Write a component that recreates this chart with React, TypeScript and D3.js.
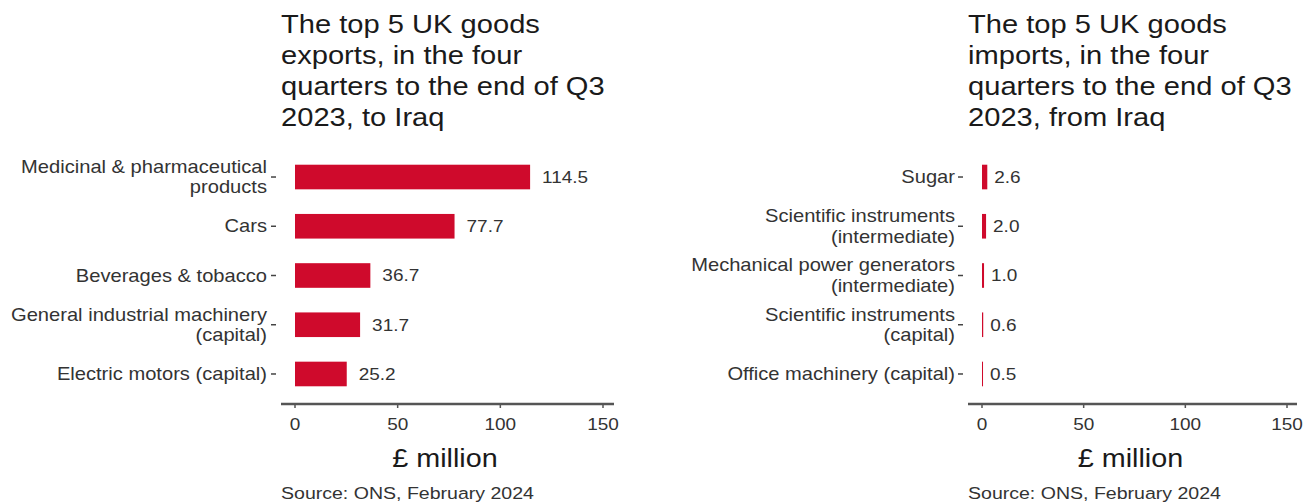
import React from "react";
import * as d3 from "d3";

const exportCategories = [
  ["Medicinal & pharmaceutical", "products"],
  ["Cars"],
  ["Beverages & tobacco"],
  ["General industrial machinery", "(capital)"],
  ["Electric motors (capital)"],
];
const exportValues = [114.5, 77.7, 36.7, 31.7, 25.2];

const importCategories = [
  ["Sugar"],
  ["Scientific instruments", "(intermediate)"],
  ["Mechanical power generators", "(intermediate)"],
  ["Scientific instruments", "(capital)"],
  ["Office machinery (capital)"],
];
const importValues = [2.6, 2.0, 1.0, 0.6, 0.5];

const xTicks = [0, 50, 100, 150];

const exportTitle = ["The top 5 UK goods", "exports, in the four", "quarters to the end of Q3", "2023, to Iraq"];
const importTitle = ["The top 5 UK goods", "imports, in the four", "quarters to the end of Q3", "2023, from Iraq"];

const BAR = "#CF0A2C";
const FONT = "'Liberation Sans', Arial, sans-serif";
const SX = 1.15;

type TProps = {
  x: number;
  y: number;
  size: number;
  anchor?: "start" | "middle" | "end";
  fill?: string;
  sx?: number;
  dy?: string;
  children: React.ReactNode;
};

function T({ x, y, size, anchor = "start", fill = "#333", sx = SX, dy, children }: TProps) {
  return (
    <g transform={`translate(${x},${y}) scale(${sx},1)`}>
      <text x={0} y={0} dy={dy} textAnchor={anchor} fontSize={size} fill={fill} fontFamily={FONT}>
        {children}
      </text>
    </g>
  );
}

type PanelProps = {
  cats: string[][];
  vals: number[];
  title: string[];
  x0: number;
  x150: number;
  axisStart: number;
  axisEnd: number;
  dashStart: number;
  dashEnd: number;
  labelRight: number;
  gap: number;
};

function Panel(p: PanelProps) {
  const x = d3.scaleLinear().domain([0, 150]).range([p.x0, p.x150]);
  const keys = p.cats.map((c) => c.join(" "));
  const y = d3
    .scaleBand<string>()
    .domain(keys)
    .range([152.4, 398.6])
    .paddingInner(0.5)
    .paddingOuter(0.25);
  const bw = y.bandwidth();
  const axisY = 404;
  return (
    <g>
      {p.title.map((t, i) => (
        <T key={i} x={p.axisStart} y={33 + i * 31} size={26} sx={1.12} fill="#1a1a1a">
          {t}
        </T>
      ))}
      {p.cats.map((c, i) => {
        const cy = (y(keys[i]) as number) + bw / 2;
        const lh = 20.5;
        const start = cy - ((c.length - 1) * lh) / 2;
        return (
          <g key={keys[i]}>
            {c.map((line, j) => (
              <T key={j} x={p.labelRight} y={start + j * lh} dy="0.35em" anchor="end" size={17.5}>
                {line}
              </T>
            ))}
            <line x1={p.dashStart} x2={p.dashEnd} y1={cy} y2={cy} stroke="#444" strokeWidth={1.5} />
            <rect x={x(0)} y={y(keys[i])} width={x(p.vals[i]) - x(0)} height={bw} fill={BAR} />
            <T x={x(p.vals[i]) + p.gap} y={cy} dy="0.35em" size={16.5}>
              {p.vals[i].toFixed(1)}
            </T>
          </g>
        );
      })}
      <line x1={p.axisStart} x2={p.axisEnd} y1={axisY} y2={axisY} stroke="#555" strokeWidth={2.5} />
      {xTicks.map((t) => (
        <g key={t}>
          <line x1={x(t)} x2={x(t)} y1={axisY} y2={axisY + 4} stroke="#555" strokeWidth={1.5} />
          <T x={x(t)} y={axisY + 26} anchor="middle" size={16.5}>
            {t}
          </T>
        </g>
      ))}
      <T x={(p.x0 + p.x150) / 2 - 4} y={467} anchor="middle" size={25} fill="#1a1a1a">
        £ million
      </T>
      <T x={p.axisStart} y={499} size={17}>
        Source: ONS, February 2024
      </T>
    </g>
  );
}

export default function App() {
  return (
    <svg
      width={1311}
      height={504}
      style={{ position: "absolute", left: 0, top: 0, background: "#fff" }}
    >
      <rect width={1311} height={504} fill="#fff" />
      <Panel
        cats={exportCategories}
        vals={exportValues}
        title={exportTitle}
        x0={295}
        x150={603}
        axisStart={281}
        axisEnd={614}
        dashStart={271}
        dashEnd={276}
        labelRight={267}
        gap={12}
      />
      <Panel
        cats={importCategories}
        vals={importValues}
        title={importTitle}
        x0={982}
        x150={1287}
        axisStart={968}
        axisEnd={1297}
        dashStart={958}
        dashEnd={963}
        labelRight={955}
        gap={7}
      />
    </svg>
  );
}
